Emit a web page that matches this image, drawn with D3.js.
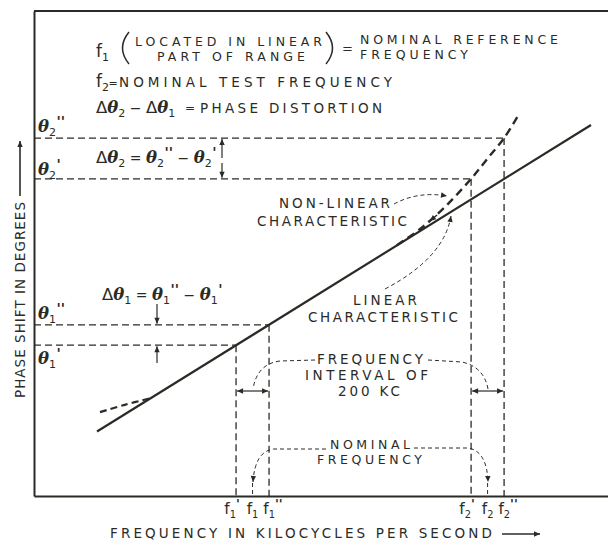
<!DOCTYPE html>
<html>
<head>
<meta charset="utf-8">
<script src="https://cdn.jsdelivr.net/npm/d3@7"></script>
<style>
  html, body { margin: 0; padding: 0; background: #fff; }
  svg { display: block; }
  .cap { font-family: 'DejaVu Sans', sans-serif; font-size: 13.5px; fill: #2b2b26; }
  .cap.tight { font-size: 12.5px; }
  .ink { font-family: 'DejaVu Sans', sans-serif; fill: #2b2b26; }
</style>
</head>
<body>
<div id="chart"></div>
<script>
// Phase shift vs frequency: linear and non-linear characteristic (phase distortion sketch)
const freqLabels = ["f1'", "f1", "f1''", "f2'", "f2", "f2''"];
const freqValues = [1225, 1325, 1425, 2650, 2750, 2850];   // kilocycles
const phaseLabels = ["θ1'", "θ1''", "θ2'", "θ2''"];
const phaseValues = [31.1, 35.3, 65.4, 73.8];              // degrees

const linearFreq = [382, 3377];
const linearPhase = [13.3, 76.5];

const nonLinearFreq = [2200, 2350, 2500, 2650, 2750, 2850, 2940];
const nonLinearPhase = [51.7, 55.3, 59.9, 65.4, 69.6, 73.8, 78.7];

const lowEndFreq = [400, 550, 700];
const lowEndPhase = [17.3, 18.8, 20.1];

const INK = '#2b2b26';
const W = 608, H = 542;

const svg = d3.select('#chart').append('svg')
    .attr('width', W)
    .attr('height', H);

const x = d3.scaleLinear().domain([0, 3480]).range([34, 608]);
const y = d3.scaleLinear().domain([0, 100]).range([496, 11]);

// arrow heads
const defs = svg.append('defs');
defs.append('marker')
    .attr('id', 'arr')
    .attr('viewBox', '0 0 10 10')
    .attr('refX', 10).attr('refY', 5)
    .attr('markerWidth', 8).attr('markerHeight', 6)
    .attr('markerUnits', 'userSpaceOnUse')
    .attr('orient', 'auto-start-reverse')
    .append('path').attr('d', 'M0,0.5 L10,5 L0,9.5 Z').attr('fill', INK);

// frame
svg.append('g')
    .attr('transform', `translate(0,${y(0)})`)
    .call(d3.axisBottom(x).tickValues([]).tickSizeOuter(0))
    .call(g => g.select('.domain').attr('stroke', INK).attr('stroke-width', 2));
svg.append('g')
    .attr('transform', `translate(${x(0)},0)`)
    .call(d3.axisLeft(y).tickValues([]).tickSizeOuter(0))
    .call(g => g.select('.domain').attr('stroke', INK).attr('stroke-width', 2));
svg.append('line')
    .attr('x1', x(0)).attr('x2', x(3480))
    .attr('y1', y(100)).attr('y2', y(100))
    .attr('stroke', INK).attr('stroke-width', 2);

// guide lines: each phase level runs to its frequency, then down to the axis
const guideFreq = [0, 2, 3, 5];
const guides = svg.append('g')
    .attr('stroke', INK).attr('stroke-width', 1.3)
    .attr('stroke-dasharray', '7,4').attr('fill', 'none');
phaseValues.forEach((v, i) => {
    const f = freqValues[guideFreq[i]];
    guides.append('line')
        .attr('x1', x(0)).attr('x2', x(f))
        .attr('y1', y(v)).attr('y2', y(v));
    guides.append('line')
        .attr('x1', x(f)).attr('x2', x(f))
        .attr('y1', y(v)).attr('y2', y(0));
});

// characteristics
const line = d3.line().x(d => x(d[0])).y(d => y(d[1]));
svg.append('path')
    .datum(d3.zip(linearFreq, linearPhase))
    .attr('d', line)
    .attr('fill', 'none').attr('stroke', INK).attr('stroke-width', 2.2);

const curve = d3.line().x(d => x(d[0])).y(d => y(d[1])).curve(d3.curveCatmullRom);
svg.append('path')
    .datum(d3.zip(nonLinearFreq, nonLinearPhase))
    .attr('d', curve)
    .attr('fill', 'none').attr('stroke', INK).attr('stroke-width', 2.4)
    .attr('stroke-dasharray', '8,5');
svg.append('path')
    .datum(d3.zip(lowEndFreq, lowEndPhase))
    .attr('d', curve)
    .attr('fill', 'none').attr('stroke', INK).attr('stroke-width', 2.2)
    .attr('stroke-dasharray', '7,4');

// small arrow where the non-linear curve leaves the line
svg.append('path')
    .attr('d', 'M437,215 L430,221')
    .attr('stroke', INK).attr('stroke-width', 1.5)
    .attr('marker-end', 'url(#arr)');

// leaders (thin dashed)
const leaders = svg.append('g')
    .attr('stroke', INK).attr('stroke-width', 1)
    .attr('stroke-dasharray', '4,3').attr('fill', 'none');
leaders.append('path').attr('d', 'M394,204 Q418,191 447,196').attr('marker-end', 'url(#arr)');
leaders.append('path').attr('d', 'M385,289 Q444,258 451,216').attr('marker-end', 'url(#arr)');
leaders.append('path').attr('d', 'M315,360 L280,361 Q257,364 253,389');
leaders.append('path').attr('d', 'M428,360 L462,362 Q484,367 488,389');
leaders.append('path').attr('d', 'M326,449 L274,449 Q255,451 253,482').attr('marker-end', 'url(#arr)');
leaders.append('path').attr('d', 'M414,448 L468,448 Q487,451 488,482').attr('marker-end', 'url(#arr)');
[freqValues[1], freqValues[4]].forEach(f => {
    leaders.append('line')
        .attr('x1', x(f)).attr('x2', x(f))
        .attr('y1', 483).attr('y2', y(0));
});

// 200 kc interval double arrows
const solidArrows = svg.append('g').attr('stroke', INK).attr('stroke-width', 1.2);
[[freqValues[0], freqValues[2]], [freqValues[3], freqValues[5]]].forEach(([a, b]) => {
    solidArrows.append('line')
        .attr('x1', x(a) + 1).attr('x2', x(b) - 1)
        .attr('y1', 391).attr('y2', 391)
        .attr('marker-start', 'url(#arr)').attr('marker-end', 'url(#arr)');
});

// delta arrows
const dArrow = (xx, y1, y2) => solidArrows.append('line')
    .attr('x1', xx).attr('x2', xx).attr('y1', y1).attr('y2', y2)
    .attr('marker-end', 'url(#arr)');
dArrow(157, 304, y(phaseValues[1]) - 1);
dArrow(157, 363, y(phaseValues[0]) + 1);
dArrow(222, 158, y(phaseValues[3]) + 1);
dArrow(222, 163, y(phaseValues[2]) - 1);

// math text: tokens of [kind, text]
function mathText(parent, xx, yy, tokens, anchor, small) {
    const k = small ? 0.9 : 1;
    const t = parent.append('text').attr('class', 'ink')
        .attr('x', xx).attr('y', yy)
        .attr('text-anchor', anchor || 'start');
    let cur = 0;
    tokens.forEach(([kind, str]) => {
        const s = t.append('tspan').text(str);
        let target = 0;
        if (kind === 'sub') {
            target = 4; s.attr('font-size', 11 * k);
        } else if (kind === 'pr') {
            target = -6;
            s.attr('font-size', 14 * k).attr('dx', small ? 0 : 0.5).attr('font-style', 'italic')
                .attr('font-weight', 'bold');
        } else if (kind === 'th') {
            s.attr('font-family', "'DejaVu Serif', serif").attr('font-style', 'italic')
                .attr('font-weight', 'bold').attr('font-size', 16.5);
        } else if (kind === 'D') {
            s.attr('font-size', 16.5);
        } else if (kind === 'f') {
            s.attr('font-size', 17 * k);
        } else {
            s.attr('font-size', 14);
        }
        s.attr('dy', target - cur);
        cur = target;
    });
    return t;
}
const primeOf = s => s.length === 1 ? "'" : "''";

const texts = svg.append('g');
function capText(xx, yy, str, len, tight) {
    texts.append('text').attr('class', tight ? 'cap tight' : 'cap')
        .attr('x', xx).attr('y', yy)
        .attr('textLength', len).attr('lengthAdjust', 'spacing')
        .text(str);
}

// header
mathText(texts, 96, 57, [['f', 'f'], ['sub', '1']]);
texts.append('path').attr('d', 'M129,32 Q116,48 129,64')
    .attr('fill', 'none').attr('stroke', INK).attr('stroke-width', 1.5);
texts.append('path').attr('d', 'M326,32 Q339,48 326,64')
    .attr('fill', 'none').attr('stroke', INK).attr('stroke-width', 1.5);
capText(135, 45.5, 'LOCATED IN LINEAR', 187, true);
capText(157, 60.5, 'PART OF RANGE', 148, true);
texts.append('text').attr('class', 'ink').attr('font-size', 13).attr('x', 342).attr('y', 53).text('=');
capText(360, 44, 'NOMINAL REFERENCE', 198, true);
capText(360, 59, 'FREQUENCY', 108, true);

mathText(texts, 96, 87, [['f', 'f'], ['sub', '2']]);
texts.append('text').attr('class', 'ink').attr('font-size', 11).attr('x', 108.5).attr('y', 87).text('=');
capText(119, 87, 'NOMINAL TEST FREQUENCY', 273);

mathText(texts, 96, 113, [['D', 'Δ'], ['th', 'θ'], ['sub', '2'], ['op', ' − '], ['D', 'Δ'], ['th', 'θ'], ['sub', '1']]);
texts.append('text').attr('class', 'ink').attr('font-size', 12).attr('x', 185).attr('y', 112).text('=');
capText(200, 113, 'PHASE DISTORTION', 182);

// delta equations
mathText(texts, 96, 163, [['D', 'Δ'], ['th', 'θ'], ['sub', '2'], ['op', ' = '], ['th', 'θ'], ['sub', '2'], ['pr', "''"], ['op', ' − '], ['th', 'θ'], ['sub', '2'], ['pr', "'"]]);
mathText(texts, 102, 300, [['D', 'Δ'], ['th', 'θ'], ['sub', '1'], ['op', ' = '], ['th', 'θ'], ['sub', '1'], ['pr', "''"], ['op', ' − '], ['th', 'θ'], ['sub', '1'], ['pr', "'"]]);

// phase level labels
const phaseLabelDy = [19, -6, -4, -6];
phaseLabels.forEach((lab, i) => {
    mathText(texts, 38, y(phaseValues[i]) + phaseLabelDy[i],
        [['th', 'θ'], ['sub', lab[1]], ['pr', primeOf(lab.slice(2))]]);
});

// frequency labels
const freqLabelDx = [-4, 0, 4, -4, 0, 4];
freqLabels.forEach((lab, i) => {
    const tok = [['f', 'f'], ['sub', lab[1]]];
    if (lab.length > 2) tok.push(['pr', primeOf(lab.slice(2))]);
    mathText(texts, x(freqValues[i]) + freqLabelDx[i], 514, tok, 'middle', true);
});

// annotations
capText(279, 208, 'NON-LINEAR', 111);
capText(257, 226, 'CHARACTERISTIC', 150);
capText(353, 305, 'LINEAR', 64);
capText(308, 322, 'CHARACTERISTIC', 150);
capText(317, 364, 'FREQUENCY', 106);
capText(305, 380, 'INTERVAL OF', 123);
capText(338, 396, '200 KC', 62);
capText(330, 449, 'NOMINAL', 80, true);
capText(317, 464, 'FREQUENCY', 105, true);

// axis titles
capText(110, 538, 'FREQUENCY IN KILOCYCLES PER SECOND', 382);
svg.append('line')
    .attr('x1', 502).attr('x2', 540).attr('y1', 534).attr('y2', 534)
    .attr('stroke', INK).attr('stroke-width', 1.6)
    .attr('marker-end', 'url(#arr)');

texts.append('text').attr('class', 'cap')
    .attr('transform', 'translate(25,398) rotate(-90)')
    .attr('textLength', 196).attr('lengthAdjust', 'spacing')
    .text('PHASE SHIFT IN DEGREES');
svg.append('line')
    .attr('x1', 20).attr('x2', 20).attr('y1', 196).attr('y2', 141)
    .attr('stroke', INK).attr('stroke-width', 1.6)
    .attr('marker-end', 'url(#arr)');
</script>
</body>
</html>
